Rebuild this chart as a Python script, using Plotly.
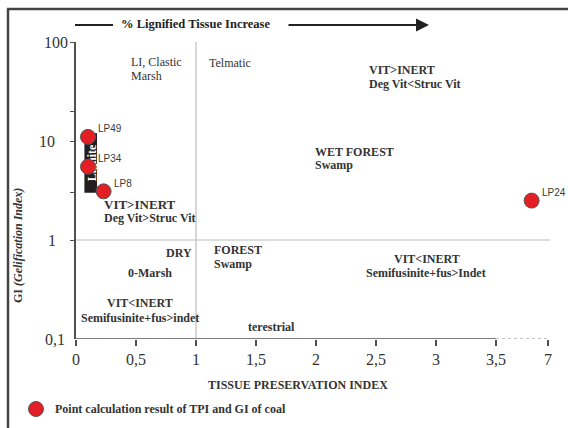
import math
import plotly.graph_objects as go

# Coal samples: tissue preservation index (TPI) and gelification index (GI)
sample_ids = ["LP49", "LP34", "LP8", "LP24"]
tpi_values = [0.10, 0.10, 0.23, 5.9]
gi_values = [11.0, 5.5, 3.1, 2.5]

# Axis ticks (the TPI axis is broken between 3.5 and 7)
x_tick_values = [0, 0.5, 1, 1.5, 2, 2.5, 3, 3.5, 7]
x_tick_labels = ["0", "0,5", "1", "1,5", "2", "2,5", "3", "3,5", "7"]
y_tick_values = [100, 10, 1, 0.1]
y_tick_labels = ["100", "10", "1", "0,1"]
y_tick_marks = [1, 3, 10, 20, 100]

# Lignite band (TPI / GI extent)
lignite_tpi = [0.07, 0.175]
lignite_gi = [3.0, 12.0]

W, H = 568, 428
ML, MR, MT, MB = 76, 18, 42, 89
PW, PH = W - ML - MR, H - MT - MB

BREAK_START, BREAK_END = 3.5, 7.0
BREAK_WIDTH = 0.433  # axis units used by the compressed 3.5-7 stretch
X_MAX = 3.95

SERIF = "Liberation Serif, Times New Roman, serif"
SANS = "Liberation Sans, Arial, sans-serif"
INK = "#333333"
AXIS = "#505050"
RED = "#e31e24"


def tpi_to_axis(v):
    if v <= BREAK_START:
        return v
    return BREAK_START + (v - BREAK_START) / (BREAK_END - BREAK_START) * BREAK_WIDTH


def px(x):
    return (x - ML) / PW


def py(y):
    return (H - MB - y) / PH


fig = go.Figure()

x_break_end = tpi_to_axis(BREAK_END)

# reference lines: GI = 1 and TPI = 1
fig.add_trace(go.Scatter(x=[0, X_MAX], y=[1, 1], mode="lines",
                         line=dict(color="#bdbdbd", width=1.2),
                         hoverinfo="skip", showlegend=False))
fig.add_trace(go.Scatter(x=[1, 1], y=[0.1, 100], mode="lines",
                         line=dict(color="#bdbdbd", width=1.2),
                         hoverinfo="skip", showlegend=False))
# x axis line, solid up to 3.5 then dotted across the break
fig.add_trace(go.Scatter(x=[0, BREAK_START], y=[0.1, 0.1], mode="lines",
                         line=dict(color=AXIS, width=1.6),
                         hoverinfo="skip", showlegend=False, cliponaxis=False))
fig.add_trace(go.Scatter(x=[BREAK_START, x_break_end], y=[0.1, 0.1], mode="lines",
                         line=dict(color="#8a8a8a", width=1.2, dash="dot"),
                         hoverinfo="skip", showlegend=False, cliponaxis=False))

# sample points
fig.add_trace(go.Scatter(
    x=[tpi_to_axis(v) for v in tpi_values], y=gi_values, mode="markers",
    marker=dict(size=15, color=RED, line=dict(color="#555555", width=1)),
    name="Point calculation result of TPI and GI of coal",
    showlegend=False, cliponaxis=False))

shapes = [
    # outer frame
    dict(type="line", xref="paper", yref="paper", x0=px(8), x1=px(8), y0=py(9), y1=py(432),
         line=dict(color="#444444", width=2.5)),
    dict(type="line", xref="paper", yref="paper", x0=px(7), x1=px(572), y0=py(9), y1=py(9),
         line=dict(color="#444444", width=2.5)),
    # lignite band with its rotated label, kept under the markers
    dict(type="rect", xref="x", yref="y", layer="below",
         x0=lignite_tpi[0], x1=lignite_tpi[1], y0=lignite_gi[0], y1=lignite_gi[1],
         fillcolor="#231f20", line=dict(width=0),
         label=dict(text="<b>Lignite</b>", textangle=-90,
                    font=dict(family=SERIF, size=12, color="white"))),
    # arrow stem left of the heading
    dict(type="line", xref="paper", yref="paper", x0=px(75), x1=px(113), y0=py(25), y1=py(25),
         line=dict(color="#222222", width=2)),
    # legend symbol
    dict(type="circle", xref="paper", yref="paper",
         x0=px(28.5), x1=px(43.5), y0=py(416.5), y1=py(401.5),
         fillcolor=RED, line=dict(color="#555555", width=1)),
]

annotations = []


def note(text, x, y, size=12, bold=True, anchor="left", color=INK, family=SERIF, **kw):
    annotations.append(dict(
        text=f"<b>{text}</b>" if bold else text,
        xref="paper", yref="paper", x=px(x), y=py(y),
        xanchor=anchor, yanchor="middle", showarrow=False,
        font=dict(family=family, size=size, color=color), **kw))


# heading arrow
note("% Lignified Tissue Increase", 119, 24, size=12.5, color="#222222")
annotations.append(dict(
    xref="paper", yref="paper", x=px(429), y=py(25), ax=-142, ay=0,
    axref="pixel", ayref="pixel", text="", showarrow=True,
    arrowhead=2, arrowsize=1.3, arrowwidth=2, arrowcolor="#222222", standoff=0))

# facies / maceral regions
note("LI, Clastic", 129, 62, bold=False)
note("Marsh", 129, 76, bold=False)
note("Telmatic", 207, 63, bold=False)
note("VIT&gt;INERT", 367, 70)
note("Deg Vit&lt;Struc Vit", 367, 84)
note("WET FOREST", 313, 152)
note("Swamp", 313, 165)
note("VIT&gt;INERT", 102, 204, size=13)
note("Deg Vit&gt;Struc Vit", 102, 218)
note("DRY", 164, 253)
note("0-Marsh", 126, 273)
note("FOREST", 212, 250)
note("Swamp", 212, 264)
note("VIT&lt;INERT", 427, 259, anchor="center")
note("Semifusinite+fus&gt;Indet", 426, 273, anchor="center")
note("VIT&lt;INERT", 140, 303, anchor="center")
note("Semifusinite+fus&gt;indet", 140, 318, anchor="center")
note("terestrial", 246, 327)

# axis titles
note("TISSUE PRESERVATION INDEX", 298, 385, anchor="center")
annotations.append(dict(
    text="<b>GI <i>(Gelification Index)</i></b>", xref="paper", yref="paper",
    x=px(18), y=py(246), xanchor="center", yanchor="middle", textangle=-90,
    showarrow=False, font=dict(family=SERIF, size=12, color=INK)))

# y tick labels
y_label_centres = [56, 47, 52, 55]
for val, lab, cx in zip(y_tick_values, y_tick_labels, y_label_centres):
    annotations.append(dict(
        text=lab, xref="paper", yref="y", x=px(cx), y=math.log10(val),
        xanchor="center", yanchor="middle", showarrow=False,
        font=dict(family=SERIF, size=16, color=INK)))

# sample labels
for sid, t, g in zip(sample_ids, tpi_values, gi_values):
    annotations.append(dict(
        text=sid, xref="x", yref="y", x=tpi_to_axis(t), y=math.log10(g),
        xanchor="left", yanchor="middle", xshift=8, yshift=8, showarrow=False,
        font=dict(family=SANS, size=10, color="#3a3a3a")))

# legend text
note("Point calculation result of TPI and GI of coal", 53, 409)

fig.update_layout(
    width=W, height=H,
    margin=dict(l=ML, r=MR, t=MT, b=MB),
    paper_bgcolor="white", plot_bgcolor="white",
    showlegend=False,
    shapes=shapes, annotations=annotations,
    xaxis=dict(
        range=[0, X_MAX], showgrid=False, zeroline=False, showline=False,
        tickmode="array",
        tickvals=[tpi_to_axis(v) for v in x_tick_values], ticktext=x_tick_labels,
        ticks="outside", ticklen=6, tickwidth=1.5, tickcolor=AXIS,
        ticklabelstandoff=0,
        tickfont=dict(family=SERIF, size=16, color=INK)),
    yaxis=dict(
        type="log", range=[-1, 2], showgrid=False, zeroline=False,
        showline=True, linecolor=AXIS, linewidth=1.6,
        tickmode="array", tickvals=y_tick_marks,
        ticks="outside", ticklen=4, tickwidth=1.3, tickcolor=AXIS,
        showticklabels=False),
)

fig.write_html("out.html")
